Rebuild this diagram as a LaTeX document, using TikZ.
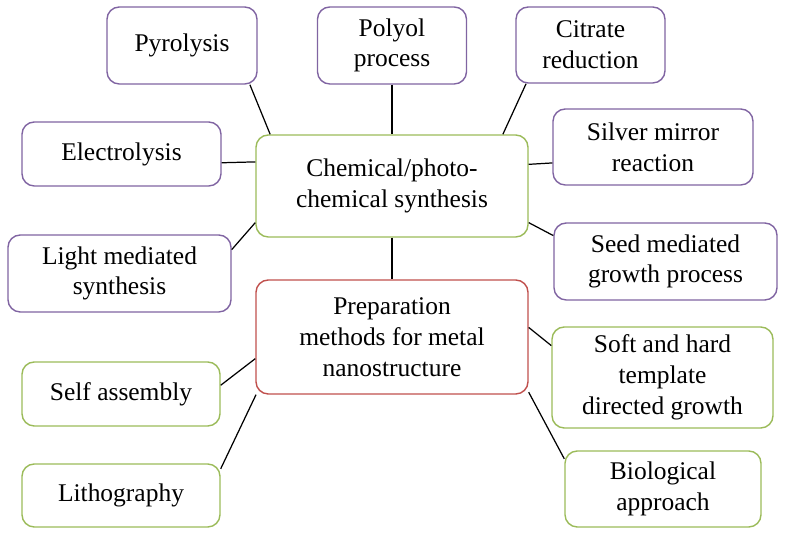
\documentclass[tikz,border=0pt]{standalone}
\usepackage{fontspec}
\setmainfont{Liberation Serif}
\usetikzlibrary{positioning}
\definecolor{boxpurple}{HTML}{8064A2}
\definecolor{boxgreen}{HTML}{9BBB59}
\definecolor{boxred}{HTML}{C0504D}

\begin{document}
\begin{tikzpicture}[on grid, line width=0.8pt,
    box/.style={draw, rounded corners=7pt, align=center, inner sep=2pt,
        font=\fontsize{14.5}{17.5}\selectfont},
    purplebox/.style={box, draw=boxpurple},
    greenbox/.style={box, draw=boxgreen},
    redbox/.style={box, draw=boxred}]
    \useasboundingbox (-7.84,-7.06) rectangle (7.9,3.72);
    \node[greenbox, minimum width=5.44cm, minimum height=2.04cm] (chem) {Chemical/photo-\\chemical synthesis};
    \node[purplebox, minimum width=3cm, minimum height=1.54cm] (pyro) [above left=2.81cm and 4.2cm of chem] {Pyrolysis};
    \node[purplebox, minimum width=2.98cm, minimum height=1.54cm] (polyol) [above=2.81cm of chem] {Polyol\\process};
    \node[purplebox, minimum width=2.98cm, minimum height=1.52cm] (citrate) [above right=2.82cm and 3.97cm of chem] {Citrate\\reduction};
    \node[purplebox, minimum width=3.98cm, minimum height=1.28cm] (elec) [above left=0.64cm and 5.41cm of chem] {Electrolysis};
    \node[purplebox, minimum width=4cm, minimum height=1.52cm] (silver) [above right=0.78cm and 5.22cm of chem] {Silver mirror\\reaction};
    \node[purplebox, minimum width=4.46cm, minimum height=1.54cm] (light) [below left=1.75cm and 5.45cm of chem] {Light mediated\\synthesis};
    \node[purplebox, minimum width=4.46cm, minimum height=1.54cm] (seed) [below right=1.51cm and 5.47cm of chem] {Seed mediated\\growth process};
    \node[redbox, minimum width=5.44cm, minimum height=2.28cm] (prep) [below=3.02cm of chem] {Preparation\\methods for metal\\nanostructure};
    \node[greenbox, minimum width=3.96cm, minimum height=1.28cm] (self) [below left=1.14cm and 5.42cm of prep] {Self assembly};
    \node[greenbox, minimum width=3.96cm, minimum height=1.26cm] (litho) [below left=3.17cm and 5.42cm of prep] {Lithography};
    \node[greenbox, minimum width=4.42cm, minimum height=2.02cm] (soft) [below right=0.81cm and 5.41cm of prep] {Soft and hard\\template\\directed growth};
    \node[greenbox, minimum width=3.92cm, minimum height=1.52cm] (bio) [below right=3.04cm and 5.42cm of prep] {Biological\\approach};
    \path[draw, line width=0.7pt]
     (pyro.-30.6)    edge (chem.157.5)
     (polyol.south)  edge (polyol.south |- chem.north)
     (citrate.-149.6) edge (chem.25.3)
     (elec.-5.7)     edge (chem.170.8)
     (silver.189.1)  edge (chem.9.6)
     (seed.167.6)    edge (chem.-15.6)
     (light.12.8)    edge (chem.195.6)
     (chem.south)    edge (chem.south |- prep.north)
     (self.5.8)      edge (prep.189.2)
     (litho.15.8)    edge (prep.203.3)
     (soft.164.1)    edge (prep.4.2)
     (bio.163.4)     edge (prep.-22.1);
\end{tikzpicture}
\end{document}
